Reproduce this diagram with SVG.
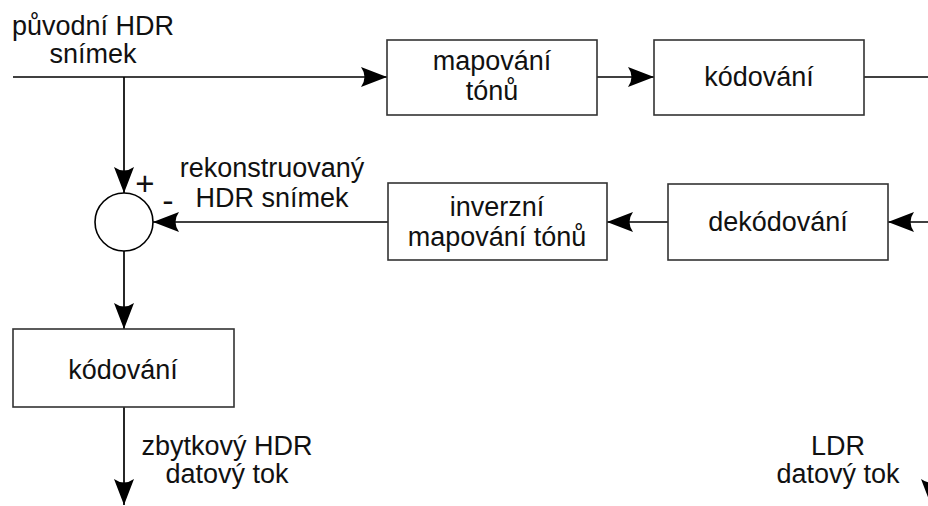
<svg xmlns="http://www.w3.org/2000/svg" width="928" height="506" viewBox="0 0 928 506">
<style>
.box{fill:#fff;stroke:#333;stroke-width:1.6}
.ln{fill:none;stroke:#000;stroke-width:1.7}
text{font-family:"Liberation Sans",Arial,sans-serif;font-size:27px;fill:#111;text-anchor:middle}
</style>
<defs>
<marker id="ah" markerUnits="userSpaceOnUse" markerWidth="30" markerHeight="24" viewBox="-27 -12 30 24" refX="0" refY="0" orient="auto">
<path d="M0,0 L-26,-10 Q-19,0 -26,10 Z" fill="#000"/>
</marker>
</defs>
<rect width="928" height="506" fill="#fff"/>
<g id="connectors">
<line class="ln" x1="13" y1="77" x2="387" y2="77" marker-end="url(#ah)"/>
<line class="ln" x1="124" y1="77" x2="124" y2="193" marker-end="url(#ah)"/>
<line class="ln" x1="597" y1="77" x2="654" y2="77" marker-end="url(#ah)"/>
<line class="ln" x1="864" y1="77" x2="940" y2="77"/>
<line class="ln" x1="940" y1="222" x2="888" y2="222" marker-end="url(#ah)"/>
<line class="ln" x1="668" y1="222" x2="607" y2="222" marker-end="url(#ah)"/>
<line class="ln" x1="388" y1="222" x2="153" y2="222" marker-end="url(#ah)"/>
<line class="ln" x1="124" y1="251" x2="124" y2="329" marker-end="url(#ah)"/>
<line class="ln" x1="124" y1="407" x2="124" y2="505" marker-end="url(#ah)"/>
<line class="ln" x1="931" y1="470" x2="931" y2="505" marker-end="url(#ah)"/>
</g>
<g id="label-input">
<text x="93" y="35">původní HDR</text>
<text x="93" y="63">snímek</text>
</g>
<g id="tonemap">
<rect class="box" x="387" y="40" width="210" height="75"/>
<text x="492" y="70">mapování</text>
<text x="492" y="100">tónů</text>
</g>
<g id="encode-ldr">
<rect class="box" x="654" y="40" width="210" height="75"/>
<text x="759" y="86">kódování</text>
</g>
<g id="decode">
<rect class="box" x="668" y="184" width="220" height="76"/>
<text x="778" y="231">dekódování</text>
</g>
<g id="inverse-tonemap">
<rect class="box" x="388" y="183" width="219" height="77"/>
<text x="497" y="216">inverzní</text>
<text x="497" y="246">mapování tónů</text>
</g>
<g id="subtract">
<circle cx="124" cy="222" r="29" fill="#fff" stroke="#000" stroke-width="1.6"/>
<text x="145" y="195" style="font-size:33px">+</text>
<text x="168" y="212" style="font-size:34px">-</text>
</g>
<g id="label-recon">
<text x="272" y="177">rekonstruovaný</text>
<text x="272" y="207">HDR snímek</text>
</g>
<g id="encode-residual">
<rect class="box" x="13" y="329" width="221" height="78"/>
<text x="123" y="379">kódování</text>
</g>
<g id="label-residual">
<text x="227" y="455">zbytkový HDR</text>
<text x="227" y="483">datový tok</text>
</g>
<g id="label-ldr">
<text x="838" y="455">LDR</text>
<text x="838" y="483">datový tok</text>
</g>
</svg>
